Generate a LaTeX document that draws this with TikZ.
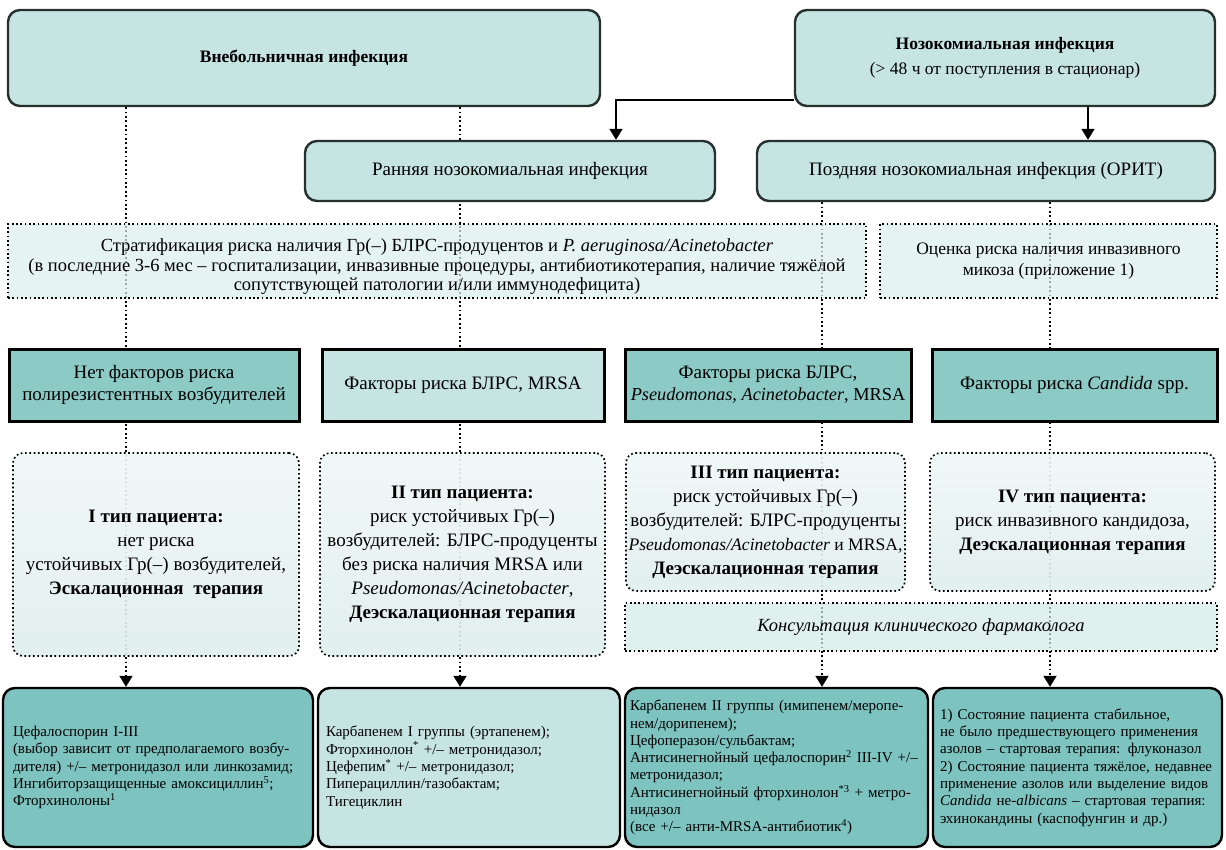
\documentclass[tikz,border=0pt]{standalone}
\usepackage{fontspec}
\setmainfont{Liberation Serif}
\usetikzlibrary{positioning,arrows.meta,backgrounds}

\definecolor{edgec}{HTML}{26302F}
\definecolor{tealL}{HTML}{C5E4E2}
\definecolor{tealM}{HTML}{DCEEEE}
\definecolor{tealD}{HTML}{8CCAC6}
\definecolor{tealB}{HTML}{7DC3BF}
\definecolor{paleT}{HTML}{F6FAFA}
\definecolor{paleB}{HTML}{E0EFEE}
\definecolor{consc}{HTML}{D3E9E8}

\newcommand\setfs[2]{\fontsize{#1}{#2}\selectfont}

\begin{document}
\begin{tikzpicture}[x=1pt,y=-1pt,
  rbox/.style={draw=edgec,line width=2.4pt,rounded corners=12pt,fill=tealL,align=center,inner sep=0pt,font=\setfs{19}{25}},
  dbox/.style={draw=black,line width=1.7pt,dash pattern=on 1.7pt off 2.6pt,fill=tealM,fill opacity=.7,text opacity=1,align=center,inner sep=0pt,font=\setfs{18.5}{19.5}},
  fbox/.style={draw=black,line width=3pt,fill=tealD,align=center,inner sep=0pt,font=\setfs{19}{22}},
  pbox/.style={dbox,rounded corners=10pt,top color=paleT,bottom color=paleB,font=\setfs{19}{24}},
  bbox/.style={draw=black,line width=2.4pt,rounded corners=12pt,fill=tealB,align=left,inner sep=0pt,minimum height=159pt,font=\setfs{15}{17.3}},
  dotline/.style={line width=1.8pt,dash pattern=on 1.8pt off 2.6pt,-{Triangle[width=13pt,length=11pt]}},
  arr/.style={line width=2pt,-{Triangle[width=13pt,length=11pt]}}
]
\useasboundingbox (0,0) rectangle (1226,849);

% top row
\node[rbox,minimum width=592pt,minimum height=96pt,font=\bfseries\setfs{17.5}{25}] (vne) at (304,58) {Внебольничная инфекция};
\node[rbox,minimum width=420pt,minimum height=96pt,font=\setfs{17.5}{25}] (noz) at (1005,58) {{\bfseries Нозокомиальная инфекция}\\(> 48 ч от поступления в стационар)};

\node[rbox,minimum width=410pt,minimum height=60pt] (rann) at (510,171) {Ранняя нозокомиальная инфекция};
\node[rbox,minimum width=458pt,minimum height=60pt] (pozd) at (986,171) {Поздняя нозокомиальная инфекция (ОРИТ)};

% risk
\node[dbox,minimum width=858pt,minimum height=74pt] (strat) at (437,261) {\rule{0pt}{24pt}Стратификация риска наличия Гр(–) БЛРС-продуцентов и \textit{P. aeruginosa/Acinetobacter}\\(в последние 3-6 мес – госпитализации, инвазивные процедуры, антибиотикотерапия, наличие тяжёлой\\сопутствующей патологии и/или иммунодефицита)};
\node[dbox,minimum width=337pt,minimum height=74pt,font=\setfs{17.5}{21}] (ots) at (1048.5,261) {Оценка риска наличия инвазивного\\микоза (приложение 1)};

\node[fbox,minimum width=290pt,minimum height=72pt] (f1) at (154,385) {Нет факторов риска\\полирезистентных возбудителей};
\node[fbox,fill=tealL,minimum width=282pt,minimum height=72pt] (f2) at (463,385) {Факторы риска БЛРС, MRSA};
\node[fbox,minimum width=286pt,minimum height=72pt] (f3) at (768,385) {Факторы риска БЛРС,\\{\setfs{18.3}{22}\textit{Pseudomonas, Acinetobacter}, MRSA}};
\node[fbox,minimum width=285pt,minimum height=72pt] (f4) at (1074.5,385) {Факторы риска \textit{Candida} spp.};

% patient types
\node[pbox,minimum width=286pt,minimum height=203pt] (p1) at (156,554.5) {\textbf{I тип пациента:}\\нет риска\\устойчивых Гр(–) возбудителей,\\\textbf{Эскалационная\enspace терапия}};
\node[pbox,minimum width=285pt,minimum height=203pt] (p2) at (462.5,554.5) {\textbf{II тип пациента:}\\риск устойчивых Гр(–)\\возбудителей: БЛРС-продуценты\\без риска наличия MRSA или\\\textit{Pseudomonas/Acinetobacter},\\\textbf{Деэскалационная терапия}};
\node[pbox,minimum width=279pt,minimum height=138pt] (p3) at (765.5,522) {\textbf{III тип пациента:}\\риск устойчивых Гр(–)\\возбудителей: БЛРС-продуценты\\{\setfs{17.6}{24}\textit{Pseudomonas/Acinetobacter} и MRSA,}\\\textbf{Деэскалационная терапия}};
\node[pbox,minimum width=285pt,minimum height=138pt] (p4) at (1072.5,522) {\textbf{IV тип пациента:}\\риск инвазивного кандидоза,\\\textbf{Деэскалационная терапия}};

\node[dbox,fill=consc,minimum width=592pt,minimum height=48pt,font=\itshape\setfs{18.5}{20}] (cons) at (921,627) {Консультация клинического фармаколога};

% therapy
\node[bbox,minimum width=310pt,text width=290pt] (b1) at (158,767.5) {Цефалоспорин I-III\\(выбор зависит от предполагаемого возбу-\\дителя) +/– метронидазол или линкозамид;\\Ингибиторзащищенные амоксициллин\textsuperscript{5};\\Фторхинолоны\textsuperscript{1}};
\node[bbox,fill=tealL,minimum width=302pt,text width=286pt] (b2) at (469,767.5) {Карбапенем I группы (эртапенем);\\Фторхинолон\textsuperscript{*} +/– метронидазол;\\Цефепим\textsuperscript{*} +/– метронидазол;\\Пиперациллин/тазобактам;\\Тигециклин};
\node[bbox,minimum width=303pt,text width=293pt] (b3) at (776.5,767.5) {Карбапенем II группы (имипенем/меропе-\\нем/дорипенем);\\Цефоперазон/сульбактам;\\Антисинегнойный цефалоспорин\textsuperscript{2} III-IV +/–\\метронидазол;\\Антисинегнойный фторхинолон\textsuperscript{*3} + метро-\\нидазол\\(все +/– анти-MRSA-антибиотик\textsuperscript{4})};
\node[bbox,minimum width=289pt,text width=275pt] (b4) at (1077.5,767.5) {1) Состояние пациента стабильное,\\не было предшествующего применения\\азолов – стартовая терапия: флуконазол\\2) Состояние пациента тяжёлое, недавнее\\применение азолов или выделение видов\\\textit{Candida} не-\textit{albicans} – стартовая терапия:\\эхинокандины (каспофунгин и др.)};

\coordinate (c1) at (126,0);
\coordinate (c2) at (460,0);
\coordinate (c3) at (822,0);
\coordinate (c4) at (1050,0);
\coordinate (lk) at (616,100);
\coordinate (rk) at (1088,0);

\begin{pgfonlayer}{background}
\foreach \c/\s/\t in {c1/vne/b1,c2/vne/b2,c3/pozd/b3,c4/pozd/b4}
  \draw[dotline] (\c |- \s.south) -- (\c |- \t.north);
\draw[arr] (noz.west |- lk) -| (rann.north -| lk);
\draw[arr] (rk |- noz.south) -- (rk |- pozd.north);
\end{pgfonlayer}
\end{tikzpicture}
\end{document}
